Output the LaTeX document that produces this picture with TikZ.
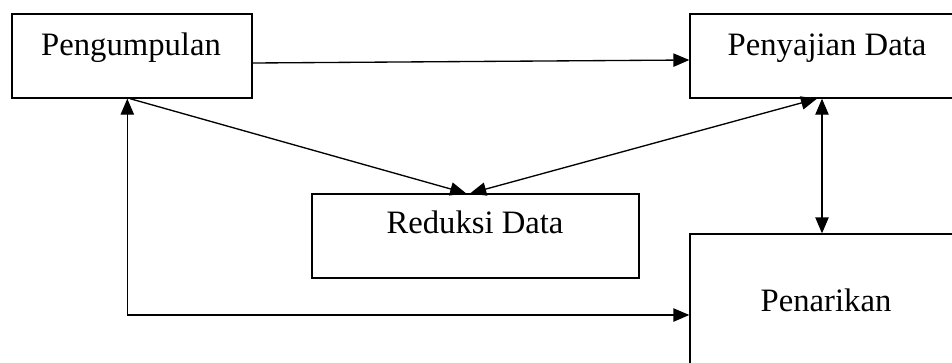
\documentclass[tikz,border=0pt]{standalone}
\usepackage{fontspec}
\setmainfont{Liberation Serif}
\usetikzlibrary{arrows.meta,calc}

\begin{document}
\begin{tikzpicture}[x=0.75pt,y=-0.75pt,>={Triangle[length=12pt,width=10pt]},
  box/.style={draw,line width=1pt,inner sep=0pt,minimum height=63pt},
  lbl/.style={anchor=base,font=\fontsize{24.5}{29}\selectfont}]
  \useasboundingbox (0,0) rectangle (952,362);
  % Kaesten
  \node[box,minimum width=180pt] (peng) at (132,56) {};
  \node[box,minimum width=205.5pt] (saji) at (827,56) {};
  \node[box,minimum width=245.25pt] (red) at (475.5,236) {};
  \node[box,minimum width=204pt,minimum height=121.5pt] (tarik) at (826,315) {};
  % Beschriftung
  \node[lbl] (tPeng) at (131,55) {Pengumpulan};
  \node[lbl] (tSaji) at (827,55) {Penyajian Data};
  \node[lbl] (tRed) at (475,233) {Reduksi Data};
  \node[lbl] (tTarik) at (826,311) {Penarikan};
  % Pfeile
  \begin{scope}[line width=1pt]
    \draw[->] ([yshift=-5.25pt]peng.east) -- ([yshift=-3pt]saji.west);
    \draw[->] ([xshift=-1.5pt]peng.south) -- ([xshift=-7pt]red.north);
    \draw[<->] ([xshift=-4pt]red.north) -- ([xshift=-7.5pt]saji.south);
    \draw[<->] ([xshift=-3.75pt]saji.south) -- ([xshift=-3.75pt]saji.south |- tarik.north);
    \draw[<->] ([xshift=-3.5pt]peng.south) |- (tarik.west);
  \end{scope}
\end{tikzpicture}
\end{document}
